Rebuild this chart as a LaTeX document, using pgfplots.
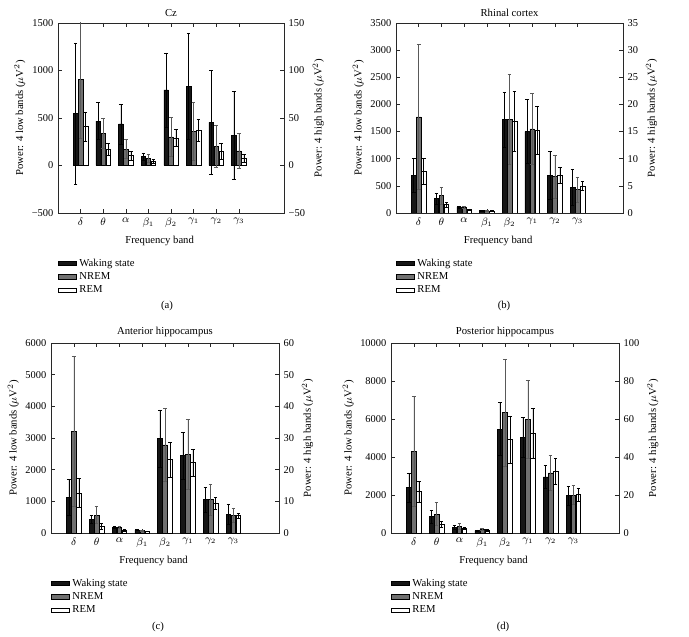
\documentclass[border=0pt]{standalone}
\usepackage{pgfplots}
\pgfplotsset{compat=1.18}
\usepackage{pgfplotstable}
\usepackage{fontspec}
\setmainfont{Liberation Serif}
\definecolor{wake}{RGB}{22,22,22}
\definecolor{nrem}{RGB}{112,112,112}
\definecolor{axgray}{RGB}{40,40,40}

% Panel (a) Cz
\pgfplotstableread{
x w we n ne r re
1 545 745 905 620 410 155
2 468 195 340 155 172 60
3 438 210 172 100 103 45
4 92 40 72 42 45 18
}\Alow
\pgfplotstableread{
x w we n ne r re
5 79.5 39 30 20.5 29 9
6 83.5 56 36 30.5 37 11.5
7 45.5 55 20.5 22 15 8
8 31.5 46.5 15.5 18.5 7.5 4.5
}\Ahigh
% Panel (b) Rhinal cortex
\pgfplotstableread{
x w we n ne r re
1 695 310 1770 1340 770 235
2 264 100 320 150 154 40
3 112 20 105 20 65 12
4 42 10 35 8 35 10
}\Blow
\pgfplotstableread{
x w we n ne r re
5 17.2 5.1 17.2 8.3 16.9 5.5
6 15.0 5.9 15.5 6.6 15.3 4.4
7 6.9 4.4 6.7 3.9 7.0 1.5
8 4.75 3.3 4.35 2.3 5.0 0.85
}\Bhigh
% Panel (c) Anterior hippocampus
\pgfplotstableread{
x w we n ne r re
1 1130 560 3220 2370 1260 460
2 430 120 565 270 210 90
3 185 30 180 40 90 20
4 90 15 72 10 55 10
}\Clow
\pgfplotstableread{
x w we n ne r re
5 29.8 9.1 27.8 11.6 23.2 5.6
6 24.4 7.5 24.9 11 22.2 4.2
7 10.5 4.1 10.5 5 9.3 1.9
8 6.0 3.2 5.6 2.3 5.5 0.8
}\Chigh
% Panel (d) Posterior hippocampus
\pgfplotstableread{
x w we n ne r re
1 2390 770 4300 2910 2180 540
2 860 330 1000 610 440 160
3 300 120 350 140 245 70
4 130 40 190 50 150 40
}\Dlow
\pgfplotstableread{
x w we n ne r re
5 54.7 14 63.3 28 49.1 12.5
6 50.5 10.4 59.8 20.6 52.6 13.1
7 29.5 6.1 31.6 9.1 32.4 6.8
8 19.6 4.8 20.0 5.0 20.3 3.5
}\Dhigh

\pgfplotsset{
  base/.style={scale only axis, height=142.5pt, xmin=0, xmax=10,
    font=\fontsize{8}{9.5}\selectfont,
    tick label style={font=\fontsize{7.8}{9}\selectfont},
    /pgf/number format/assume math mode=true,
    /pgf/number format/1000 sep={},
    scaled y ticks=false,
    axis line style={axgray, line width=0.5pt},
    major tick length=3pt,
    tick style={axgray, line width=0.4pt}},
  leftax/.style={base,
    xtick={1,...,8},
    xticklabels={$\delta$,$\theta$,$\alpha$,$\beta_1$,$\beta_2$,$\gamma_1$,$\gamma_2$,$\gamma_3$},
    xtick pos=both, ytick pos=left,
    xlabel={Frequency band},
    ylabel={Power: 4 low bands ($\mu$V$^2$)},
    ylabel style={yshift=-2pt},
    xlabel style={at={(ticklabel cs:0.45)}, anchor=near ticklabel},
    legend style={at={(0,-0.225)}, anchor=north west, draw=none, fill=none,
      font=\fontsize{8}{8.6}\selectfont, legend cell align=left,
      inner sep=0pt, row sep=-0.8pt},
    title style={yshift=-5pt}},
  rightax/.style={base, axis x line=none, axis y line*=right, ytick pos=right,
    ylabel={Power: 4 high bands ($\mu$V$^2$)}, ylabel style={yshift=1pt}},
  legimg/.style={legend image code/.code={\draw[##1, line width=0.4pt] (0pt,-1.6pt) rectangle (13.5pt,1.6pt);}},
  errs/.style={/pgfplots/error bars/y dir=both, /pgfplots/error bars/y explicit,
    /pgfplots/error bars/error bar style={#1, line width=0.4pt},
    /pgfplots/error bars/error mark options={rotate=90, mark size=1.4pt, #1, line width=0.4pt}},
  wk/.style={ybar, bar width=0.2, bar shift=0, fill=wake, draw=black, line width=0.4pt, legimg, errs=black},
  nr/.style={ybar, bar width=0.2, bar shift=0, fill=nrem, draw=black, line width=0.4pt, legimg, errs=black!65},
  rm/.style={ybar, bar width=0.2, bar shift=0, fill=white, draw=black, line width=0.4pt, legimg, errs=black},
}
\newcommand\bars[1]{%
  \addplot[wk] table[x expr=\thisrow{x}-0.22, y=w, y error=we] {#1};
  \addplot[nr] table[x=x, y=n, y error=ne] {#1};
  \addplot[rm] table[x expr=\thisrow{x}+0.22, y=r, y error=re] {#1};}

\begin{document}
\begin{tikzpicture}
\useasboundingbox (0,0) rectangle (516.75pt,477pt);
\fill[white] (0,0) rectangle (516.75pt,477pt);

% ---------- (a) Cz ----------
\begin{axis}[leftax, at={(43.5pt,317.25pt)}, anchor=south west, width=169.5pt,
  ymin=-500, ymax=1500, ytick={-500,0,500,1000,1500},
  yticklabels={−500,0,500,1000,1500}, title={Cz}]
\bars{\Alow}
\legend{Waking state, NREM, REM}
\end{axis}
\begin{axis}[rightax, at={(43.5pt,317.25pt)}, anchor=south west, width=169.5pt,
  ymin=-50, ymax=150, ytick={-50,0,50,100,150},
  yticklabels={−50,0,50,100,150}]
\bars{\Ahigh}
\end{axis}

% ---------- (b) Rhinal cortex ----------
\begin{axis}[leftax, at={(297pt,317.25pt)}, anchor=south west, width=170.25pt,
  ymin=0, ymax=3500, ytick={0,500,...,3500}, title={Rhinal cortex}]
\bars{\Blow}
\legend{Waking state, NREM, REM}
\end{axis}
\begin{axis}[rightax, at={(297pt,317.25pt)}, anchor=south west, width=170.25pt,
  ymin=0, ymax=35, ytick={0,5,...,35}]
\bars{\Bhigh}
\end{axis}

% ---------- (c) Anterior hippocampus ----------
\begin{axis}[leftax, at={(38.25pt,77.25pt)}, anchor=south west, width=171pt,
  ymin=0, ymax=6000, ytick={0,1000,...,6000}, title={Anterior hippocampus}]
\bars{\Clow}
\legend{Waking state, NREM, REM}
\end{axis}
\begin{axis}[rightax, at={(38.25pt,77.25pt)}, anchor=south west, width=171pt,
  ymin=0, ymax=60, ytick={0,10,...,60}]
\bars{\Chigh}
\end{axis}

% ---------- (d) Posterior hippocampus ----------
\begin{axis}[leftax, at={(293.25pt,77.25pt)}, anchor=south west, width=171pt,
  ymin=0, ymax=10000, ytick={0,2000,...,10000}, title={Posterior hippocampus}]
\bars{\Dlow}
\legend{Waking state, NREM, REM}
\end{axis}
\begin{axis}[rightax, at={(293.25pt,77.25pt)}, anchor=south west, width=171pt,
  ymin=0, ymax=100, ytick={0,20,...,100}]
\bars{\Dhigh}
\end{axis}

\node[font=\fontsize{8}{9}\selectfont] at (125.25pt,247.5pt) {(a)};
\node[font=\fontsize{8}{9}\selectfont] at (378pt,247.5pt) {(b)};
\node[font=\fontsize{8}{9}\selectfont] at (118.5pt,6.75pt) {(c)};
\node[font=\fontsize{8}{9}\selectfont] at (377.25pt,6.75pt) {(d)};
\end{tikzpicture}
\end{document}
